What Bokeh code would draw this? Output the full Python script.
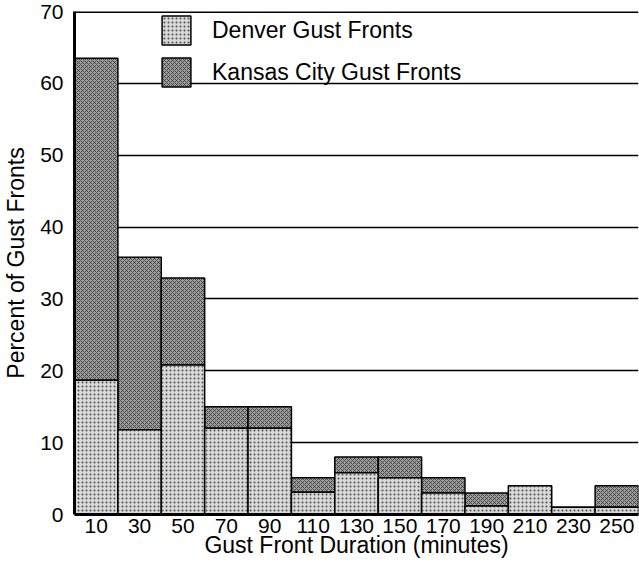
from bokeh.plotting import figure
from bokeh.models import Range1d, FixedTicker, Legend, LegendItem, ColumnDataSource, Span
from bokeh.embed import file_html
from bokeh.resources import INLINE

durations = [10, 30, 50, 70, 90, 110, 130, 150, 170, 190, 210, 230, 250]
denver_pct = [18.7, 11.8, 20.8, 12.0, 12.0, 3.1, 5.8, 5.1, 3.0, 1.2, 4.0, 1.0, 1.0]
kansas_pct = [44.8, 24.0, 12.1, 3.0, 3.0, 2.0, 2.2, 2.9, 2.1, 1.8, 0.0, 0.0, 3.0]
y_ticks = [0, 10, 20, 30, 40, 50, 60, 70]

kc_top = [d + k for d, k in zip(denver_pct, kansas_pct)]
src = ColumnDataSource(dict(x=durations, den=denver_pct, kc=kc_top))

FONT = "Liberation Sans"

p = figure(width=639, height=569, output_backend="svg", toolbar_location=None,
           x_range=Range1d(0, 260), y_range=Range1d(0, 70),
           min_border_left=73, min_border_right=1, min_border_top=11, min_border_bottom=55)
p.outline_line_color = None
p.background_fill_color = "white"

kc_r = p.vbar(x="x", bottom="den", top="kc", width=20, source=src,
              fill_color="#a0a0a0", hatch_pattern="diagonal_cross", hatch_color="#2a2a2a",
              hatch_scale=4, hatch_weight=1, hatch_alpha=0.75,
              line_color="black", line_width=1.5)
den_r = p.vbar(x="x", bottom=0, top="den", width=20, source=src,
               fill_color="#d8d8d8", hatch_pattern="dot", hatch_color="#404040",
               hatch_scale=4, hatch_weight=1.5, hatch_alpha=0.9,
               line_color="black", line_width=1.5)

p.xgrid.visible = False
p.ygrid.ticker = FixedTicker(ticks=y_ticks)
p.ygrid.grid_line_color = "black"
p.ygrid.grid_line_width = 1.5
p.add_layout(Span(location=70, dimension="width", line_color="black", line_width=3))

p.xaxis.ticker = FixedTicker(ticks=durations)
p.yaxis.ticker = FixedTicker(ticks=y_ticks)
for ax in (p.xaxis[0], p.yaxis[0]):
    ax.axis_line_width = 3
    ax.axis_line_color = "black"
    ax.major_tick_line_color = None
    ax.minor_tick_line_color = None
    ax.major_tick_out = 0
    ax.major_tick_in = 0
    ax.major_label_text_font = FONT
    ax.major_label_text_font_size = "21px"
    ax.major_label_text_color = "black"
    ax.axis_label_text_font = FONT
    ax.axis_label_text_font_size = "23px"
    ax.axis_label_text_font_style = "normal"
    ax.axis_label_text_color = "black"
p.xaxis.axis_label = "Gust Front Duration (minutes)"
p.yaxis.axis_label = "Percent of Gust Fronts"
p.xaxis.major_label_standoff = 4
p.xaxis.axis_label_standoff = -4
p.yaxis.major_label_standoff = 11
p.yaxis.axis_label_standoff = 8

legend = Legend(items=[LegendItem(label="Denver Gust Fronts", renderers=[den_r]),
                       LegendItem(label="Kansas City Gust Fronts", renderers=[kc_r])],
                location=(84, 424), orientation="vertical",
                glyph_width=36, glyph_height=36, spacing=6, padding=0, margin=0,
                label_standoff=18, label_text_font=FONT, label_text_font_size="23px",
                label_text_color="black", border_line_color=None,
                background_fill_alpha=0)
p.add_layout(legend)

open("out.html", "w").write(file_html(p, INLINE))
